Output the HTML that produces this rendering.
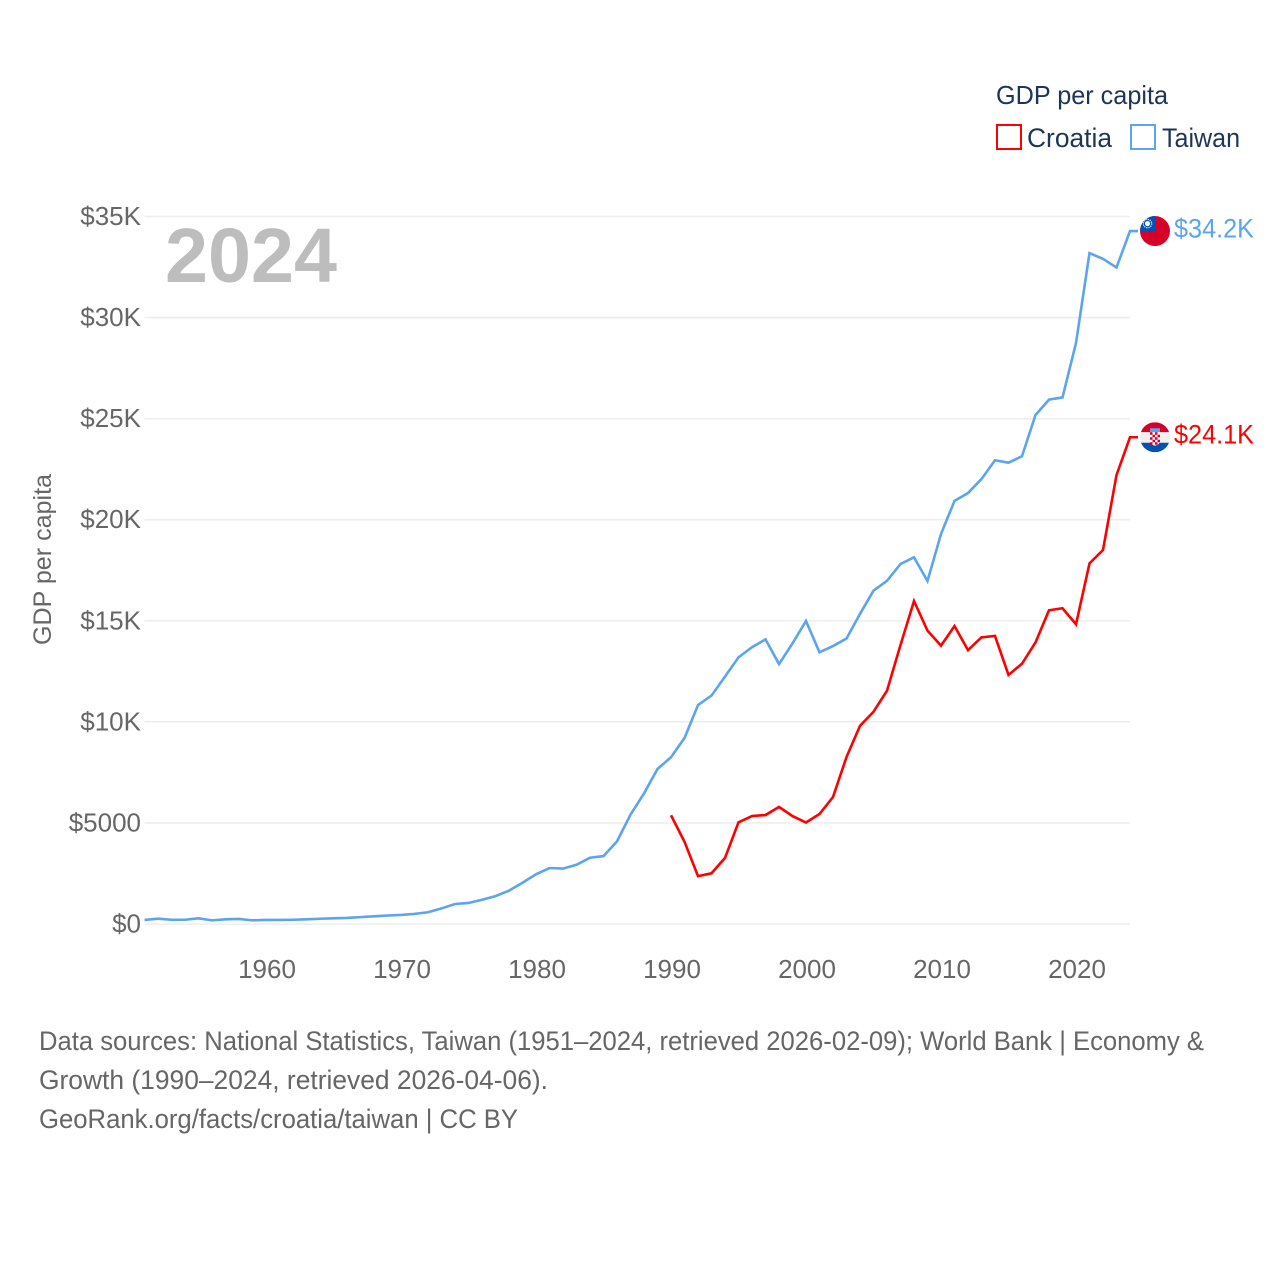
<!DOCTYPE html>
<html lang="en">
<head>
<meta charset="utf-8">
<title>GDP per capita: Croatia and Taiwan</title>
<style>
html,body{margin:0;padding:0;background:#fff;}
#chart{display:block;width:1280px;height:1280px;font-family:"Liberation Sans",sans-serif;}
</style>
</head>
<body>
<svg id="chart" xmlns="http://www.w3.org/2000/svg" width="1280" height="1280" viewBox="0 0 1280 1280">
  <defs>
    <clipPath id="clip-taiwan"><circle id="clip-taiwan-circle" cx="0" cy="0" r="15"/></clipPath>
    <clipPath id="clip-croatia"><circle id="clip-croatia-circle" cx="0" cy="0" r="15"/></clipPath>
  </defs>
  <rect x="0" y="0" width="1280" height="1280" fill="#fff"/>
  <g id="grid"></g>
  <g id="y-ticks"></g>
  <g id="x-ticks"></g>
  <text x="165" y="282" font-size="77" font-weight="700" fill="#bdbdbd" textLength="172" lengthAdjust="spacingAndGlyphs">2024</text>
  <text transform="translate(51,645) rotate(-90)" font-size="25" fill="#666" textLength="171" lengthAdjust="spacingAndGlyphs">GDP per capita</text>
  <g id="series"></g>
  <g id="flags"></g>

  <g>
    <text x="996" y="104" font-size="26" fill="#1d3557" textLength="172" lengthAdjust="spacingAndGlyphs">GDP per capita</text>
    <g>
      <rect x="997" y="125" width="24" height="24" fill="#fff" stroke="#ff0000" stroke-width="2"/>
      <text x="1027" y="147" font-size="27" fill="#1d3557" textLength="85" lengthAdjust="spacingAndGlyphs">Croatia</text>
    </g>
    <g>
      <rect x="1131" y="125" width="24" height="24" fill="#fff" stroke="#5ba4ee" stroke-width="2"/>
      <text x="1162" y="147" font-size="27" fill="#1d3557" textLength="78" lengthAdjust="spacingAndGlyphs">Taiwan</text>
    </g>
  </g>

  <g font-size="26.5" fill="#666">
    <text x="39" y="1050" textLength="1165" lengthAdjust="spacingAndGlyphs">Data sources: National Statistics, Taiwan (1951–2024, retrieved 2026-02-09); World Bank | Economy &amp;</text>
    <text x="39" y="1089" textLength="509" lengthAdjust="spacingAndGlyphs">Growth (1990–2024, retrieved 2026-04-06).</text>
    <text x="39" y="1128" textLength="479" lengthAdjust="spacingAndGlyphs">GeoRank.org/facts/croatia/taiwan | CC BY</text>
  </g>
</svg>

<script>
const yTickValues = [0, 5000, 10000, 15000, 20000, 25000, 30000, 35000];
const yTickLabels = ["$0", "$5000", "$10K", "$15K", "$20K", "$25K", "$30K", "$35K"];
const xTickYears = [1960, 1970, 1980, 1990, 2000, 2010, 2020];
const xTickLabels = ["1960", "1970", "1980", "1990", "2000", "2010", "2020"];

const taiwanStartYear = 1951;
const taiwanValues = [
  200, 260, 210, 210, 280, 180, 230, 250, 180, 200,
  200, 210, 230, 260, 280, 300, 340, 380, 420, 450,
  500, 580, 770, 990, 1040, 1200, 1380, 1650, 2040, 2460,
  2770, 2740, 2930, 3280, 3360, 4090, 5410, 6460, 7670, 8250,
  9200, 10830, 11300, 12240, 13190, 13690, 14080, 12860, 13880, 14990,
  13440, 13750, 14120, 15340, 16490, 16980, 17810, 18140, 16970, 19290,
  20930, 21320, 22010, 22940, 22820, 23140, 25180, 25940, 26050, 28740,
  33190, 32900, 32480, 34280
];
const taiwanEndLabel = "$34.2K";

const croatiaStartYear = 1990;
const croatiaValues = [
  5380, 4070, 2370, 2510, 3270, 5030, 5340, 5390, 5790, 5340,
  5020, 5440, 6280, 8260, 9800, 10500, 11540, 13800, 15980, 14510,
  13770, 14740, 13550, 14180, 14250, 12320, 12880, 13930, 15520, 15620,
  14830, 17840, 18500, 22210, 24080
];
const croatiaEndLabel = "$24.1K";

const SVG_NS = "http://www.w3.org/2000/svg";
const xScale = year => 266 + (year - 1960) * 13.5;
const yScale = value => 924 - value * (707.5 / 35000);
const plotLeft = xScale(taiwanStartYear);
const plotRight = xScale(2024);

function make(parent, tag, attrs, text) {
  const el = document.createElementNS(SVG_NS, tag);
  for (const k in attrs) el.setAttribute(k, attrs[k]);
  if (text !== undefined) el.textContent = text;
  parent.appendChild(el);
  return el;
}

const gridGroup = document.getElementById("grid");
const yGroup = document.getElementById("y-ticks");
yTickValues.forEach((v, i) => {
  const y = yScale(v);
  const line = make(gridGroup, "line", {x1: plotLeft, x2: plotRight, y1: y, y2: y, stroke: "#eeeeee", "stroke-width": 1.6});
  
  
  const label = make(yGroup, "text", {x: 141, y: y + 8.5, "text-anchor": "end", "font-size": 26, fill: "#666"}, yTickLabels[i]);
  
  
});

const xGroup = document.getElementById("x-ticks");
xTickYears.forEach((yr, i) => {
  const label = make(xGroup, "text", {x: xScale(yr) + 1, y: 978, "text-anchor": "middle", "font-size": 26, fill: "#666"}, xTickLabels[i]);
  
  
});

const seriesGroup = document.getElementById("series");
function drawSeries(values, startYear, color) {
  const pts = values.map((v, i) => xScale(startYear + i).toFixed(2) + "," + yScale(v).toFixed(2));
  const lastY = yScale(values[values.length - 1]);
  pts.push((plotRight + 8) + "," + lastY.toFixed(2));
  return make(seriesGroup, "polyline", {points: pts.join(" "), fill: "none", stroke: color, "stroke-width": 2.6, "stroke-linejoin": "miter"});
}
const taiwanLine = drawSeries(taiwanValues, taiwanStartYear, "#5ba4ee");


const croatiaLine = drawSeries(croatiaValues, croatiaStartYear, "#ff0000");



const flagsGroup = document.getElementById("flags");
const flagX = plotRight + 25;

/* Taiwan marker */
const twY = yScale(taiwanValues[taiwanValues.length - 1]);
const twFlag = make(flagsGroup, "g", {transform: "translate(" + flagX + "," + twY + ")", "clip-path": "url(#clip-taiwan)"});


make(twFlag, "rect", {x: -15, y: -15, width: 30, height: 30, fill: "#d80027"});
make(twFlag, "rect", {x: -15, y: -15, width: 15, height: 15, fill: "#0052b4"});
make(twFlag, "circle", {cx: -7.5, cy: -7.5, r: 2.6, fill: "#fff"});
make(twFlag, "circle", {cx: -7.5, cy: -7.5, r: 4.2, fill: "none", stroke: "#fff", "stroke-width": 1.2, "stroke-dasharray": "1.2 1"});
const twLabel = make(flagsGroup, "text", {x: flagX + 19, y: twY + 6.5, "font-size": 26.5, fill: "#5ba4ee", textLength: 80, lengthAdjust: "spacingAndGlyphs"}, taiwanEndLabel);



/* Croatia marker */
const hrY = yScale(croatiaValues[croatiaValues.length - 1]);
const hrFlag = make(flagsGroup, "g", {transform: "translate(" + flagX + "," + hrY + ")", "clip-path": "url(#clip-croatia)"});


make(hrFlag, "rect", {x: -15, y: -15, width: 30, height: 10, fill: "#d80027"});
make(hrFlag, "rect", {x: -15, y: -5, width: 30, height: 10.5, fill: "#f0f0f0"});
make(hrFlag, "rect", {x: -15, y: 5.5, width: 30, height: 9.5, fill: "#0052b4"});
make(hrFlag, "rect", {x: -5, y: -9, width: 10, height: 4, fill: "#5ba4ee"});
make(hrFlag, "path", {d: "M-5 -5H5V4Q5 7 0 8.5Q-5 7 -5 4Z", fill: "#fff"});
for (let r = 0; r < 5; r++) {
  for (let c = 0; c < 4; c++) {
    if ((r + c) % 2 === 0) {
      make(hrFlag, "rect", {x: -5 + c * 2.5, y: -5 + r * 2.5, width: 2.5, height: 2.5, fill: "#d80027"});
    }
  }
}
const hrLabel = make(flagsGroup, "text", {x: flagX + 19, y: hrY + 6.5, "font-size": 26.5, fill: "#ff0000", textLength: 80, lengthAdjust: "spacingAndGlyphs"}, croatiaEndLabel);


</script>
</body>
</html>
